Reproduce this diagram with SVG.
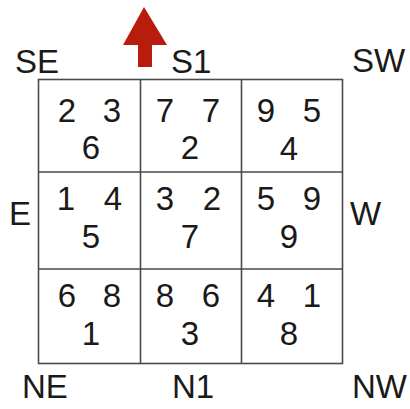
<svg xmlns="http://www.w3.org/2000/svg" width="410" height="409" viewBox="0 0 410 409">
<style>
.lbl{font-family:"Liberation Sans",Arial,sans-serif;font-size:33px;fill:#1a1a1a}
.num{font-family:"Liberation Sans",Arial,sans-serif;font-size:33px;fill:#1a1a1a;text-anchor:middle}
.grid{stroke:#4a4a4a;stroke-width:1.6;fill:none}
</style>
<rect width="410" height="409" fill="#fff"/>
<g id="arrow"><polygon points="144,7 167,45 152,45 152,67 138,67 138,45 123,45" fill="#b71c0c"/></g>
<g id="grid">
<rect class="grid" x="38.5" y="79.5" width="304" height="284"/>
<line class="grid" x1="140.5" y1="79.5" x2="140.5" y2="363.5"/>
<line class="grid" x1="241.5" y1="79.5" x2="241.5" y2="363.5"/>
<line class="grid" x1="38.5" y1="172" x2="342.5" y2="172"/>
<line class="grid" x1="38.5" y1="269" x2="342.5" y2="269"/>
</g>
<g id="labels">
<text class="lbl" x="15" y="73">SE</text>
<text class="lbl" x="171" y="73">S1</text>
<text class="lbl" x="352" y="72">SW</text>
<text class="lbl" x="9" y="225">E</text>
<text class="lbl" x="350" y="225">W</text>
<text class="lbl" x="22" y="398">NE</text>
<text class="lbl" x="172" y="398">N1</text>
<text class="lbl" x="352" y="398">NW</text>
</g>
<g id="cell-1-1"><text class="num" x="67" y="122">2</text><text class="num" x="112" y="122">3</text><text class="num" x="91" y="159">6</text></g>
<g id="cell-1-2"><text class="num" x="165" y="122">7</text><text class="num" x="211" y="122">7</text><text class="num" x="190" y="159">2</text></g>
<g id="cell-1-3"><text class="num" x="266" y="122">9</text><text class="num" x="312" y="122">5</text><text class="num" x="289" y="160">4</text></g>
<g id="cell-2-1"><text class="num" x="66" y="210">1</text><text class="num" x="113" y="210">4</text><text class="num" x="91" y="248">5</text></g>
<g id="cell-2-2"><text class="num" x="165" y="210">3</text><text class="num" x="212" y="210">2</text><text class="num" x="190" y="248">7</text></g>
<g id="cell-2-3"><text class="num" x="266" y="210">5</text><text class="num" x="312" y="210">9</text><text class="num" x="289" y="248">9</text></g>
<g id="cell-3-1"><text class="num" x="67" y="307">6</text><text class="num" x="112" y="307">8</text><text class="num" x="91" y="345">1</text></g>
<g id="cell-3-2"><text class="num" x="165" y="307">8</text><text class="num" x="211" y="307">6</text><text class="num" x="190" y="345">3</text></g>
<g id="cell-3-3"><text class="num" x="266" y="307">4</text><text class="num" x="312" y="307">1</text><text class="num" x="289" y="345">8</text></g>
</svg>
